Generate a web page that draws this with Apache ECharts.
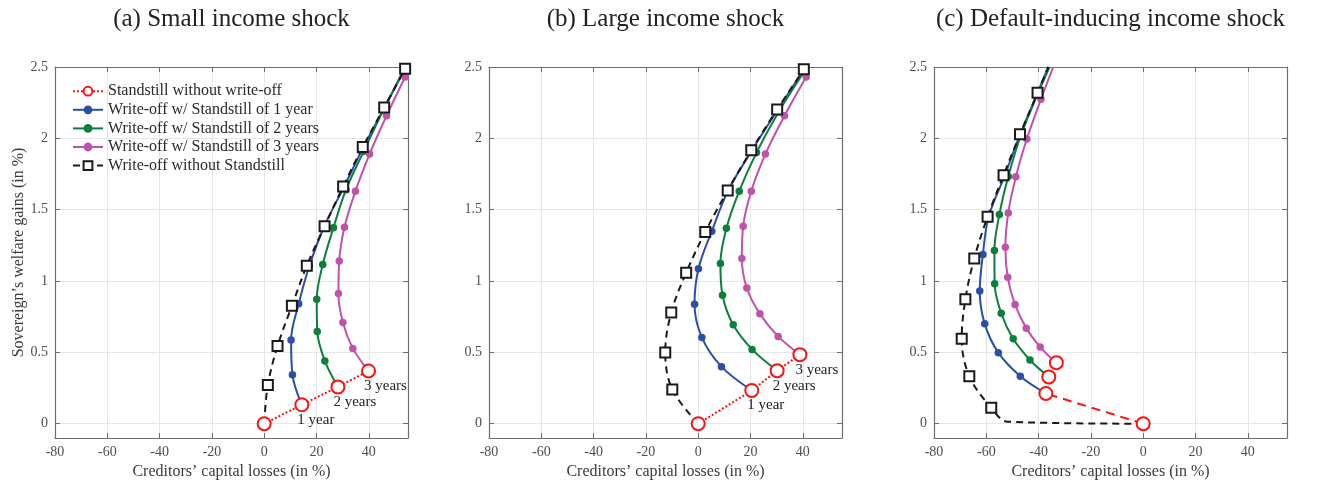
<!DOCTYPE html>
<html>
<head>
<meta charset="utf-8">
<script src="https://cdn.jsdelivr.net/npm/echarts@6/dist/echarts.min.js"></script>
<style>
html,body{margin:0;padding:0;background:#fff;}
#chart{width:1336px;height:485px;}
</style>
</head>
<body>
<div id="chart"></div>
<script>
// ---------- DATA ----------
const panelTitles = ['(a) Small income shock', '(b) Large income shock', '(c) Default-inducing income shock'];
const seriesNames = ['Standstill without write-off', 'Write-off w/ Standstill of 1 year', 'Write-off w/ Standstill of 2 years', 'Write-off w/ Standstill of 3 years', 'Write-off without Standstill'];
const yearLabels = ['1 year', '2 years', '3 years'];
const xTicks = [-80, -60, -40, -20, 0, 20, 40];
const yTicks = [0, 0.5, 1, 1.5, 2, 2.5];
const xLabel = 'Creditors’ capital losses (in %)';
const yLabel = 'Sovereign’s welfare gains (in %)';

// Panel (a) – small income shock
const A_red = [[0, 0], [14.4, 0.133], [28.2, 0.258], [39.9, 0.37]];
const A_blue = [[10.8, 0.344], [10.3, 0.586], [13.2, 0.84], [17.3, 1.107], [23.0, 1.384], [30.6, 1.663], [38.0, 1.94], [46.0, 2.216], [53.6, 2.488]];
const A_green = [[23.2, 0.44], [20.3, 0.647], [20.1, 0.872], [22.4, 1.116], [26.5, 1.374], [31.3, 1.64], [38.0, 1.907], [45.6, 2.198], [53.5, 2.475]];
const A_magenta = [[33.9, 0.528], [30.1, 0.709], [28.4, 0.912], [28.7, 1.14], [30.7, 1.377], [34.9, 1.63], [40.3, 1.89], [46.8, 2.158], [53.9, 2.43]];
const A_black = [[1.4, 0.272], [5.1, 0.544], [10.6, 0.826], [16.3, 1.107], [23.1, 1.384], [30.2, 1.663], [37.7, 1.94], [45.9, 2.216], [53.9, 2.488]];

// Panel (b) – large income shock
const B_red = [[0, 0], [20.5, 0.233], [30.2, 0.372], [38.9, 0.484]];
const B_blue = [[8.9, 0.4], [1.4, 0.605], [-1.4, 0.837], [0.1, 1.086], [5.2, 1.349], [11.5, 1.635], [20.5, 1.914], [30.4, 2.2], [40.6, 2.488]];
const B_green = [[20.6, 0.521], [13.4, 0.693], [9.3, 0.9], [8.5, 1.123], [10.8, 1.37], [15.7, 1.63], [22.3, 1.9], [30.8, 2.186], [40.9, 2.477]];
const B_magenta = [[30.6, 0.612], [23.6, 0.77], [18.6, 0.951], [16.7, 1.158], [17.2, 1.384], [20.3, 1.63], [25.7, 1.89], [33.0, 2.158], [41.3, 2.43]];
const B_black = [[-9.9, 0.24], [-12.6, 0.5], [-10.3, 0.779], [-4.6, 1.058], [2.7, 1.344], [11.3, 1.635], [20.3, 1.916], [30.2, 2.202], [40.4, 2.484]];

// Panel (c) – default-inducing income shock
const C_red = [[0, 0], [-37.2, 0.212], [-36.1, 0.328], [-33.2, 0.428]];
const C_blue = [[-47.0, 0.333], [-55.4, 0.498], [-60.6, 0.7], [-62.5, 0.93], [-61.3, 1.186], [-59.1, 1.45], [-53.0, 1.737], [-47.1, 2.026], [-40.5, 2.314]];
const C_green = [[-43.3, 0.447], [-49.7, 0.595], [-54.3, 0.774], [-56.8, 0.981], [-56.9, 1.214], [-55.0, 1.467], [-51.6, 1.733], [-46.8, 2.02], [-40.5, 2.305]];
const C_magenta = [[-39.4, 0.537], [-44.7, 0.67], [-49.0, 0.835], [-51.8, 1.026], [-52.7, 1.237], [-51.6, 1.477], [-48.7, 1.73], [-44.5, 1.995], [-39.1, 2.274]];
const C_black = [[-58.1, 0.112], [-66.5, 0.333], [-69.4, 0.595], [-68.0, 0.872], [-64.6, 1.158], [-59.5, 1.451], [-53.4, 1.742], [-47.1, 2.028], [-40.4, 2.319]];
const C_blackBend = [[-51.8, 0.014]];               // unmarked bend of the black path
const C_topExit = { blue: [-36.3, 2.5], green: [-35.8, 2.5], magenta: [-34.4, 2.5], black: [-36.3, 2.5] }; // where lines leave the top

// ---------- BUILD ----------
const COL = { red: '#ff1010', blue: '#2c4ea6', green: '#0d7f3d', magenta: '#c052ab', black: '#1a1a1a' };
const FONT = '"Liberation Serif", "DejaVu Serif", serif';
const grids = [
  { left: 55, top: 67, width: 353, height: 371 },
  { left: 489, top: 67, width: 353, height: 371 },
  { left: 934, top: 67, width: 353, height: 371 }
];

const panels = [
  { red: A_red, blue: A_blue, green: A_green, magenta: A_magenta, black: A_black, labels: true, redConnectAll: true },
  { red: B_red, blue: B_blue, green: B_green, magenta: B_magenta, black: B_black, labels: true, redConnectAll: true },
  { red: C_red, blue: C_blue, green: C_green, magenta: C_magenta, black: C_black, labels: false, redConnectAll: false,
    blackPrefix: C_blackBend, tail: C_topExit }
];

const none = p => ({ value: p, symbol: 'none' });

const xAxes = [], yAxes = [], series = [], titles = [];
grids.forEach((g, i) => {
  const axisColor = '#6e6e6e';
  xAxes.push({
    gridIndex: i, type: 'value', min: xTicks[0], max: 55, interval: 20,
    axisLine: { show: true, onZero: false, lineStyle: { color: axisColor, width: 1.2 } },
    axisTick: { inside: true, length: 5, lineStyle: { color: axisColor } },
    axisLabel: { color: '#4d4d4d', fontFamily: FONT, fontSize: 14, margin: 7, showMinLabel: true, showMaxLabel: false },
    splitLine: { show: true, lineStyle: { color: '#e6e6e6', width: 1 } },
    name: xLabel, nameLocation: 'middle', nameGap: 17,
    nameTextStyle: { color: '#3a3a3a', fontFamily: FONT, fontSize: 16 }
  });
  xAxes.push({
    gridIndex: i, type: 'value', position: 'top', min: xTicks[0], max: 55, interval: 20,
    axisLine: { show: true, onZero: false, lineStyle: { color: axisColor, width: 1.2 } },
    axisTick: { inside: true, length: 5, lineStyle: { color: axisColor } },
    axisLabel: { show: false }, splitLine: { show: false }
  });
  yAxes.push({
    gridIndex: i, type: 'value', min: -0.1, max: 2.5, splitNumber: 5,
    axisLine: { show: true, onZero: false, lineStyle: { color: axisColor, width: 1.2 } },
    axisTick: { inside: true, length: 5, lineStyle: { color: axisColor } },
    axisLabel: { color: '#4d4d4d', fontFamily: FONT, fontSize: 14, margin: 7, showMinLabel: false, showMaxLabel: true,
      formatter: v => (yTicks.indexOf(Math.round(v * 10) / 10) >= 0 ? String(Math.round(v * 10) / 10) : '') },
    splitLine: { show: true, lineStyle: { color: '#e6e6e6', width: 1 } },
    name: i === 0 ? yLabel : '', nameLocation: 'middle', nameGap: 28,
    nameTextStyle: { color: '#3a3a3a', fontFamily: FONT, fontSize: 16 }
  });
  yAxes.push({
    gridIndex: i, type: 'value', position: 'right', min: -0.1, max: 2.5, splitNumber: 5,
    axisLine: { show: true, onZero: false, lineStyle: { color: axisColor, width: 1.2 } },
    axisTick: { inside: true, length: 5, lineStyle: { color: axisColor } },
    axisLabel: { show: false }, splitLine: { show: false }
  });
  titles.push({
    text: panelTitles[i], left: g.left + g.width / 2, top: 7, textAlign: 'center', padding: 0,
    textStyle: { fontFamily: FONT, fontSize: 25, fontWeight: 'normal', color: '#222' }
  });

  const P = panels[i];
  const xi = i * 2, yi = i * 2;
  const lineSeries = (name, color, start, pts, opts) => {
    const data = [none(start)];
    (opts.prefix || []).forEach(p => data.push(none(p)));
    pts.forEach(p => data.push({ value: p }));
    if (opts.tail) data.push(none(opts.tail));
    return {
      name, type: 'line', xAxisIndex: xi, yAxisIndex: yi, data, smooth: 0.35,
      symbol: opts.symbol, symbolSize: opts.symbolSize, showAllSymbol: true, clip: true,
      lineStyle: { color, width: 2, type: opts.dash || 'solid' },
      itemStyle: { color, borderColor: color, borderWidth: opts.borderWidth || 0 },
      emphasis: { disabled: true }, z: opts.z || 2, animation: false
    };
  };
  const T = P.tail || {};
  series.push(lineSeries(seriesNames[1], COL.blue, P.red[1], P.blue, { symbol: 'circle', symbolSize: 7.5, tail: T.blue, z: 3 }));
  series.push(lineSeries(seriesNames[2], COL.green, P.red[2], P.green, { symbol: 'circle', symbolSize: 7.5, tail: T.green, z: 3 }));
  series.push(lineSeries(seriesNames[3], COL.magenta, P.red[3], P.magenta, { symbol: 'circle', symbolSize: 7.5, tail: T.magenta, z: 3 }));
  series.push(lineSeries(seriesNames[4], COL.black, P.red[0], P.black, { symbol: 'emptyRect', symbolSize: 10, borderWidth: 2, dash: [7, 5], prefix: P.blackPrefix, tail: T.black, z: 4 }));

  // red standstill path
  const redItems = P.red.map((p, k) => {
    const it = { value: p };
    if (P.labels && k > 0) {
      it.label = { show: true, formatter: yearLabels[k - 1], position: [3, 15], align: 'left', verticalAlign: 'top',
        fontFamily: FONT, fontSize: 15, color: '#222' };
    }
    return it;
  });
  if (P.redConnectAll) {
    series.push({
      name: seriesNames[0], type: 'line', xAxisIndex: xi, yAxisIndex: yi, data: redItems,
      symbol: 'emptyCircle', symbolSize: 13, showAllSymbol: true,
      lineStyle: { color: COL.red, width: 2, type: 'dotted' },
      itemStyle: { color: COL.red, borderColor: COL.red, borderWidth: 2 },
      label: { show: false }, emphasis: { disabled: true }, z: 6, animation: false
    });
  } else {
    series.push({
      name: seriesNames[0], type: 'line', xAxisIndex: xi, yAxisIndex: yi, data: redItems.slice(0, 2),
      symbol: 'emptyCircle', symbolSize: 13, showAllSymbol: true,
      lineStyle: { color: COL.red, width: 2, type: [9, 6] },
      itemStyle: { color: COL.red, borderColor: COL.red, borderWidth: 2 },
      emphasis: { disabled: true }, z: 6, animation: false
    });
    series.push({
      name: seriesNames[0], type: 'scatter', xAxisIndex: xi, yAxisIndex: yi, data: redItems.slice(2),
      symbol: 'emptyCircle', symbolSize: 13,
      itemStyle: { color: COL.red, borderColor: COL.red, borderWidth: 2, opacity: 1 },
      emphasis: { disabled: true }, z: 6, animation: false
    });
  }
});

const option = {
  backgroundColor: '#fff',
  animation: false,
  title: titles,
  grid: grids.map(g => Object.assign({ containLabel: false, show: false }, g)),
  xAxis: xAxes,
  yAxis: yAxes,
  legend: {
    data: seriesNames, orient: 'vertical', left: 67, top: 78,
    itemWidth: 30, itemHeight: 11, itemGap: 2.2, selectedMode: false,
    textStyle: { fontFamily: FONT, fontSize: 16, color: '#2a2a2a', lineHeight: 16.4 }
  },
  series: series
};

const chart = echarts.init(document.getElementById('chart'), null, { renderer: 'canvas' });
chart.setOption(option);
</script>
</body>
</html>
